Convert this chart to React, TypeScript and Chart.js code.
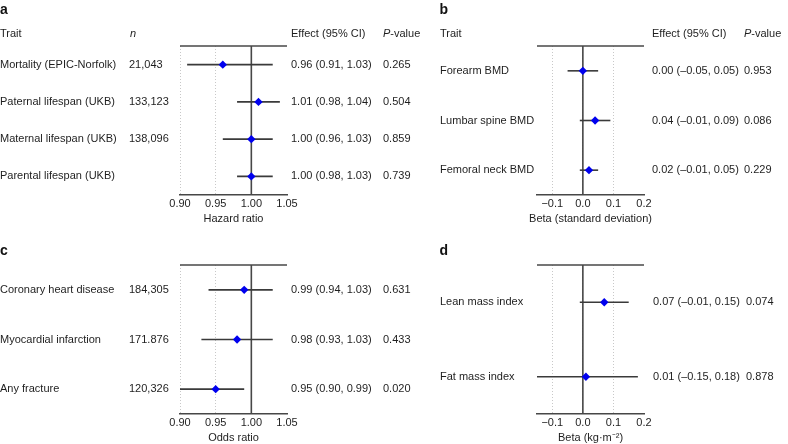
import React, { useEffect, useRef } from 'react';
import { Chart, registerables } from 'chart.js';

Chart.register(...registerables);

const FONT = '"Liberation Sans", Arial, Helvetica, sans-serif';

// ---------- Panel a : lifespan / mortality (hazard ratio) ----------
const traitsA = ['Mortality (EPIC-Norfolk)', 'Paternal lifespan (UKB)', 'Maternal lifespan (UKB)', 'Parental lifespan (UKB)'];
const nA = ['21,043', '133,123', '138,096', ''];
const estA = [0.96, 1.01, 1.0, 1.0];
const loA = [0.91, 0.98, 0.96, 0.98];
const hiA = [1.03, 1.04, 1.03, 1.03];
const pA = ['0.265', '0.504', '0.859', '0.739'];

// ---------- Panel b : BMD (beta, SD) ----------
const traitsB = ['Forearm BMD', 'Lumbar spine BMD', 'Femoral neck BMD'];
const estB = [0.0, 0.04, 0.02];
const loB = [-0.05, -0.01, -0.01];
const hiB = [0.05, 0.09, 0.05];
const pB = ['0.953', '0.086', '0.229'];

// ---------- Panel c : disease (odds ratio) ----------
const traitsC = ['Coronary heart disease', 'Myocardial infarction', 'Any fracture'];
const nC = ['184,305', '171.876', '120,326'];
const estC = [0.99, 0.98, 0.95];
const loC = [0.94, 0.93, 0.9];
const hiC = [1.03, 1.03, 0.99];
const pC = ['0.631', '0.433', '0.020'];

// ---------- Panel d : body composition (beta, kg/m2) ----------
const traitsD = ['Lean mass index', 'Fat mass index'];
const estD = [0.07, 0.01];
const loD = [-0.01, -0.15];
const hiD = [0.15, 0.18];
const pD = ['0.074', '0.878'];

// ---------- axis ticks ----------
const ratioTickValues = [0.9, 0.95, 1.0, 1.05];
const ratioTickLabels = ['0.90', '0.95', '1.00', '1.05'];
const betaTickValues = [-0.1, 0.0, 0.1, 0.2];
const betaTickLabels = ['\u22120.1', '0.0', '0.1', '0.2'];

const TEXT = '#1e1e1e';
const LINE = '#474747';

function fmt(v: number): string {
  const s = Math.abs(v).toFixed(2);
  return v < -1e-9 ? '\u2013' + s : s;
}

type Cfg = {
  letter: string;
  rows: string[];
  n?: string[];
  est: number[];
  lo: number[];
  hi: number[];
  p: string[];
  ref: number;
  xmin: number;
  xmax: number;
  tickValues: number[];
  tickLabels: string[];
  title: string;
  header: boolean;
  left: number;
  top: number;
  width: number;
  height: number;
  area: { l: number; r: number; t: number; b: number };
  cols: { label: number; n?: number; effect: number; p: number };
  letterPos: { x: number; y: number };
  headerY: number;
  titleY: number;
};

const panels: Cfg[] = [
  {
    letter: 'a', rows: traitsA, n: nA, est: estA, lo: loA, hi: hiA, p: pA, ref: 1.0,
    xmin: 0.9, xmax: 1.05, tickValues: ratioTickValues, tickLabels: ratioTickLabels, title: 'Hazard ratio',
    header: true, left: 0, top: 0, width: 432, height: 234,
    area: { l: 180, r: 287, t: 46, b: 195 },
    cols: { label: 0, n: 129, effect: 291, p: 383 },
    letterPos: { x: 0, y: 13.5 }, headerY: 34, titleY: 218.5,
  },
  {
    letter: 'b', rows: traitsB, est: estB, lo: loB, hi: hiB, p: pB, ref: 0,
    xmin: -0.15, xmax: 0.2, tickValues: betaTickValues, tickLabels: betaTickLabels, title: 'Beta (standard deviation)',
    header: true, left: 432, top: 0, width: 356, height: 234,
    area: { l: 105, r: 212, t: 46, b: 195 },
    cols: { label: 8, effect: 220, p: 312 },
    letterPos: { x: 7.5, y: 13.5 }, headerY: 34, titleY: 218.5,
  },
  {
    letter: 'c', rows: traitsC, n: nC, est: estC, lo: loC, hi: hiC, p: pC, ref: 1.0,
    xmin: 0.9, xmax: 1.05, tickValues: ratioTickValues, tickLabels: ratioTickLabels, title: 'Odds ratio',
    header: false, left: 0, top: 222, width: 432, height: 222,
    area: { l: 180, r: 287, t: 43, b: 192 },
    cols: { label: 0, n: 129, effect: 291, p: 383 },
    letterPos: { x: 0, y: 33.3 }, headerY: 0, titleY: 216,
  },
  {
    letter: 'd', rows: traitsD, est: estD, lo: loD, hi: hiD, p: pD, ref: 0,
    xmin: -0.15, xmax: 0.2, tickValues: betaTickValues, tickLabels: betaTickLabels, title: 'Beta (kg\u00b7m\u207b\u00b2)',
    header: false, left: 432, top: 222, width: 356, height: 222,
    area: { l: 105, r: 212, t: 43, b: 192 },
    cols: { label: 8, effect: 221, p: 314 },
    letterPos: { x: 7.5, y: 33.3 }, headerY: 0, titleY: 216,
  },
];

function makePlugin(cfg: Cfg) {
  return {
    id: 'forestText' + cfg.letter,
    afterDraw(chart: any) {
      const ctx: CanvasRenderingContext2D = chart.ctx;
      const ca = chart.chartArea;
      const ys = chart.scales.y;
      ctx.save();
      // top frame line
      ctx.strokeStyle = LINE;
      ctx.lineWidth = 1.5;
      ctx.beginPath();
      ctx.moveTo(ca.left, ca.top);
      ctx.lineTo(ca.right, ca.top);
      ctx.stroke();

      // panel letter
      ctx.fillStyle = '#111';
      ctx.font = `bold 14px ${FONT}`;
      ctx.textBaseline = 'alphabetic';
      ctx.textAlign = 'left';
      ctx.fillText(cfg.letter, cfg.letterPos.x, cfg.letterPos.y);

      ctx.fillStyle = TEXT;
      ctx.textBaseline = 'middle';
      const normal = `11px ${FONT}`;
      const italic = `italic 11px ${FONT}`;

      // axis title (drawn here so that it is not squeezed to the plot width)
      ctx.font = normal;
      ctx.textAlign = 'center';
      ctx.fillText(cfg.title, (ca.left + ca.right) / 2, cfg.titleY);
      ctx.textAlign = 'left';

      if (cfg.header) {
        const y = cfg.headerY;
        ctx.font = normal;
        ctx.fillText('Trait', cfg.cols.label, y);
        if (cfg.cols.n !== undefined) {
          ctx.font = italic;
          ctx.fillText('n', cfg.cols.n + 1, y);
        }
        ctx.font = normal;
        ctx.fillText('Effect (95% CI)', cfg.cols.effect, y);
        ctx.font = italic;
        ctx.fillText('P', cfg.cols.p, y);
        const w = ctx.measureText('P').width;
        ctx.font = normal;
        ctx.fillText('-value', cfg.cols.p + w, y);
      }

      ctx.font = normal;
      cfg.rows.forEach((label, i) => {
        const y = ys.getPixelForValue(i);
        ctx.fillText(label, cfg.cols.label, y);
        if (cfg.n && cfg.cols.n !== undefined) ctx.fillText(cfg.n[i], cfg.cols.n, y);
        ctx.fillText(`${fmt(cfg.est[i])} (${fmt(cfg.lo[i])}, ${fmt(cfg.hi[i])})`, cfg.cols.effect, y);
        ctx.fillText(cfg.p[i], cfg.cols.p, y);
      });
      ctx.restore();
    },
  };
}

function Panel({ cfg }: { cfg: Cfg }) {
  const ref = useRef<HTMLCanvasElement | null>(null);
  useEffect(() => {
    if (!ref.current) return;
    const nRows = cfg.rows.length;
    const pointDs: any = {
      type: 'scatter',
      data: cfg.est.map((v, i) => ({ x: v, y: i })),
      pointStyle: 'rectRot',
      pointRadius: 4.2,
      backgroundColor: '#0000ee',
      borderColor: '#0000ee',
      borderWidth: 0,
      showLine: false,
      order: 0,
    };
    const ciDs: any[] = cfg.est.map((_, i) => ({
      type: 'scatter',
      data: [
        { x: cfg.lo[i], y: i },
        { x: cfg.hi[i], y: i },
      ],
      showLine: true,
      borderColor: '#3a3a3a',
      borderWidth: 1.6,
      pointRadius: 0,
      order: 1,
    }));
    const refDs: any = {
      type: 'scatter',
      data: [
        { x: cfg.ref, y: -0.5 },
        { x: cfg.ref, y: nRows - 0.5 },
      ],
      showLine: true,
      borderColor: LINE,
      borderWidth: 1.6,
      pointRadius: 0,
      order: 2,
    };
    const scaleHeight = cfg.height - cfg.area.b;
    const chart = new Chart(ref.current, {
      type: 'scatter',
      data: { datasets: [pointDs, ...ciDs, refDs] },
      options: {
        animation: false,
        responsive: false,
        events: [],
        layout: {
          padding: { left: cfg.area.l, right: cfg.width - cfg.area.r, top: cfg.area.t, bottom: 0 },
        },
        plugins: { legend: { display: false }, tooltip: { enabled: false } },
        scales: {
          x: {
            type: 'linear',
            position: 'bottom',
            min: cfg.xmin,
            max: cfg.xmax,
            bounds: 'data',
            afterBuildTicks: (s: any) => {
              s.ticks = cfg.tickValues.map((v) => ({ value: v }));
            },
            afterFit: (s: any) => {
              s.height = scaleHeight;
            },
            ticks: {
              autoSkip: false,
              maxRotation: 0,
              padding: 2,
              color: TEXT,
              font: { family: FONT, size: 11 },
              callback: (_v: any, i: number) => cfg.tickLabels[i],
            },
            grid: {
              drawTicks: false,
              lineWidth: 1,
              color: (c: any) =>
                c.tick && Math.abs(c.tick.value - cfg.xmax) < 1e-9 ? 'rgba(0,0,0,0)' : '#c8c8c8',
            },
            border: { display: true, color: LINE, width: 1.5, dash: [1, 2] },
            title: { display: false },
          },
          y: {
            type: 'linear',
            display: false,
            reverse: true,
            min: -0.5,
            max: nRows - 0.5,
          },
        },
      } as any,
      plugins: [makePlugin(cfg)],
    });
    return () => chart.destroy();
  }, [cfg]);
  return (
    <canvas
      ref={ref}
      width={cfg.width}
      height={cfg.height}
      style={{
        position: 'absolute',
        left: cfg.left,
        top: cfg.top,
        width: cfg.width,
        height: cfg.height,
        display: 'block',
      }}
    />
  );
}

export default function App() {
  return (
    <div
      style={{
        position: 'absolute',
        left: 0,
        top: 0,
        width: 788,
        height: 444,
        background: '#ffffff',
        overflow: 'hidden',
      }}
    >
      {panels.map((cfg) => (
        <Panel key={cfg.letter} cfg={cfg} />
      ))}
    </div>
  );
}
